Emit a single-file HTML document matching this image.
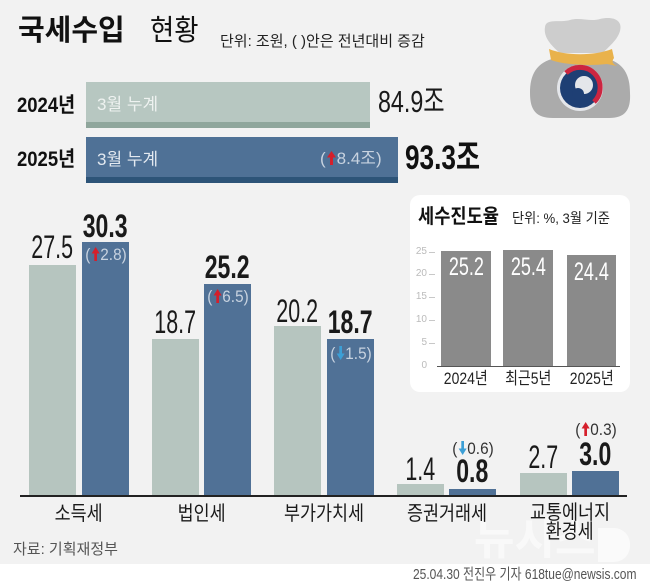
<!DOCTYPE html>
<html lang="ko">
<head>
<meta charset="utf-8">
<style>
  html,body{margin:0;padding:0;}
  body{width:650px;height:587px;position:relative;overflow:hidden;background:#f2f2f2;
       font-family:"Liberation Sans","Noto Sans CJK KR",sans-serif;color:#1a1a1a;}
  .a{position:absolute;}
  .t{position:absolute;white-space:nowrap;line-height:1;}
  .l{transform-origin:0 0;display:inline-block;}
  .c{position:absolute;white-space:nowrap;line-height:1;width:200px;text-align:center;}
  .c>span{display:inline-block;}
  .arr{display:inline-block;vertical-align:-1px;margin:0 1px;}
</style>
</head>
<body>

<!-- bottom white strip -->
<div class="a" style="left:0;top:564px;width:650px;height:23px;background:#ffffff;"></div>

<!-- Title -->
<div class="t" style="left:18px;top:16.5px;font-size:29px;font-weight:700;color:#111;">국세수입</div>
<div class="t" style="left:150px;top:16.5px;font-size:29px;font-weight:400;color:#111;"><span class="l" style="transform:scaleX(0.91)">현황</span></div>
<div class="t" style="left:220px;top:33.5px;font-size:15px;color:#222;">단위: 조원, ( )안은 전년대비 증감</div>

<!-- Bag icon -->
<svg class="a" style="left:520px;top:10px" width="130" height="130" viewBox="520 10 130 130">
  <path d="M545,27 C546,18 560,23 570,20 C580,17 590,22 600,19 C613,16 623,20 620,31 C617,41 608,47 603,53 L560,53 C553,47 543,38 545,27 Z" fill="#cdcdcd"/>
  <path d="M556,58 C536,62 530,75 530,93 C530,110 536,118 553,118 L609,118 C625,118 631,110 630,93 C630,75 624,62 604,58 Z" fill="#ababab"/>
  <path d="M549,49 C566,56 594,56 612,49 L614,58 C611,62 613,64 617,66 L607,64 C590,66 565,65 551,60 Z" fill="#e9b24b"/>
  <circle cx="580" cy="88" r="23" fill="#e4e6ea"/>
  <circle cx="580" cy="88" r="20" fill="#1e3f74"/>
  <path d="M566,73 A20,20 0 0 1 594,102" stroke="#cc2540" stroke-width="5" fill="none"/>
  <circle cx="584" cy="85" r="9" fill="#e4e6ea"/>
  <circle cx="578" cy="94" r="6" fill="#1e3f74"/>
</svg>

<!-- Top comparison bars -->
<div class="t" style="left:17px;top:95.3px;font-size:21px;font-weight:700;color:#111;"><span class="l" style="transform:scaleX(0.88)">2024년</span></div>
<div class="a" style="left:86px;top:82px;width:284px;height:40px;background:#b7c7c1;"></div>
<div class="a" style="left:86px;top:122px;width:284px;height:6px;background:#8fa69c;"></div>
<div class="t" style="left:97px;top:95.5px;font-size:17px;color:#eef2f0;">3월 누계</div>
<div class="t" style="left:378px;top:86px;font-size:31px;color:#1a1a1a;"><span class="l" style="transform:scaleX(0.75)">84.9조</span></div>

<div class="t" style="left:17px;top:148.5px;font-size:21px;font-weight:700;color:#111;"><span class="l" style="transform:scaleX(0.88)">2025년</span></div>
<div class="a" style="left:86px;top:137px;width:312px;height:40px;background:#4f7196;"></div>
<div class="a" style="left:86px;top:177px;width:312px;height:6px;background:#2d5478;"></div>
<div class="t" style="left:97px;top:150.5px;font-size:17px;color:#e3e9f0;">3월 누계</div>
<div class="t" style="left:320px;top:150px;font-size:17px;color:#c8d3e0;">(<svg class="arr" width="9" height="14" viewBox="0 0 9 14"><polygon points="0,6.5 4.5,0 9,6.5" fill="#d51f2b"/><rect x="3" y="5" width="3" height="9" fill="#d51f2b"/></svg>8.4조)</div>
<div class="t" style="left:405px;top:140.6px;font-size:34px;font-weight:700;color:#111;"><span class="l" style="transform:scaleX(0.77)">93.3조</span></div>

<!-- Main bar chart -->
<div class="a" style="left:29px;top:265px;width:47px;height:231px;background:#b6c5bf;"></div>
<div class="a" style="left:82px;top:241.5px;width:47px;height:254.5px;background:#507196;"></div>
<div class="a" style="left:152px;top:339px;width:47px;height:157px;background:#b6c5bf;"></div>
<div class="a" style="left:204px;top:284.3px;width:47px;height:211.7px;background:#507196;"></div>
<div class="a" style="left:274px;top:326.3px;width:47px;height:169.7px;background:#b6c5bf;"></div>
<div class="a" style="left:327px;top:339px;width:47px;height:157px;background:#507196;"></div>
<div class="a" style="left:397px;top:484.2px;width:47px;height:11.8px;background:#b6c5bf;"></div>
<div class="a" style="left:449px;top:489.3px;width:47px;height:6.7px;background:#507196;"></div>
<div class="a" style="left:520px;top:473.3px;width:47px;height:22.7px;background:#b6c5bf;"></div>
<div class="a" style="left:572px;top:470.8px;width:47px;height:25.2px;background:#507196;"></div>
<div class="a" style="left:20px;top:495px;width:607px;height:2px;background:#222;"></div>

<!-- value labels -->
<div class="c" style="left:-47.5px;top:231px;font-size:32px;"><span style="transform:scaleX(0.67)">27.5</span></div>
<div class="c" style="left:5.5px;top:210px;font-size:32px;font-weight:700;"><span style="transform:scaleX(0.72)">30.3</span></div>
<div class="c" style="left:75.5px;top:306px;font-size:32px;"><span style="transform:scaleX(0.67)">18.7</span></div>
<div class="c" style="left:127.5px;top:251px;font-size:32px;font-weight:700;"><span style="transform:scaleX(0.72)">25.2</span></div>
<div class="c" style="left:197.5px;top:295px;font-size:32px;"><span style="transform:scaleX(0.67)">20.2</span></div>
<div class="c" style="left:250.5px;top:306px;font-size:32px;font-weight:700;"><span style="transform:scaleX(0.72)">18.7</span></div>
<div class="c" style="left:320.5px;top:453px;font-size:32px;"><span style="transform:scaleX(0.67)">1.4</span></div>
<div class="c" style="left:372.5px;top:455px;font-size:32px;font-weight:700;"><span style="transform:scaleX(0.72)">0.8</span></div>
<div class="c" style="left:443.5px;top:441px;font-size:32px;"><span style="transform:scaleX(0.67)">2.7</span></div>
<div class="c" style="left:495.5px;top:438px;font-size:32px;font-weight:700;"><span style="transform:scaleX(0.72)">3.0</span></div>

<!-- change labels -->
<div class="c" style="left:5.5px;top:245.8px;font-size:17px;color:#c8d3e0;"><span style="transform:scaleX(0.9)">(<svg class="arr" width="9" height="14" viewBox="0 0 9 14"><polygon points="0,6.5 4.5,0 9,6.5" fill="#d51f2b"/><rect x="3" y="5" width="3" height="9" fill="#d51f2b"/></svg>2.8)</span></div>
<div class="c" style="left:127.5px;top:287.8px;font-size:17px;color:#c8d3e0;"><span style="transform:scaleX(0.9)">(<svg class="arr" width="9" height="14" viewBox="0 0 9 14"><polygon points="0,6.5 4.5,0 9,6.5" fill="#d51f2b"/><rect x="3" y="5" width="3" height="9" fill="#d51f2b"/></svg>6.5)</span></div>
<div class="c" style="left:250.5px;top:344.8px;font-size:17px;color:#c8d3e0;"><span style="transform:scaleX(0.9)">(<svg class="arr" width="9" height="14" viewBox="0 0 9 14"><polygon points="0,7.5 4.5,14 9,7.5" fill="#3c9fd6"/><rect x="3" y="0" width="3" height="9" fill="#3c9fd6"/></svg>1.5)</span></div>
<div class="c" style="left:372.5px;top:440px;font-size:17px;color:#333;"><span style="transform:scaleX(0.9)">(<svg class="arr" width="9" height="14" viewBox="0 0 9 14"><polygon points="0,7.5 4.5,14 9,7.5" fill="#3c9fd6"/><rect x="3" y="0" width="3" height="9" fill="#3c9fd6"/></svg>0.6)</span></div>
<div class="c" style="left:495.5px;top:421px;font-size:17px;color:#333;"><span style="transform:scaleX(0.9)">(<svg class="arr" width="9" height="14" viewBox="0 0 9 14"><polygon points="0,6.5 4.5,0 9,6.5" fill="#d51f2b"/><rect x="3" y="5" width="3" height="9" fill="#d51f2b"/></svg>0.3)</span></div>

<!-- watermark -->
<div class="t" style="left:474px;top:518px;font-size:44px;font-weight:700;color:#ffffff;opacity:0.6;">뉴시스</div>
<div class="a" style="left:598px;top:528px;width:32px;height:34px;background:#ffffff;opacity:0.6;border-radius:0 16px 16px 0;"></div>

<!-- category labels -->
<div class="c" style="left:-21.5px;top:504px;font-size:20px;color:#1a1a1a;"><span style="transform:scaleX(0.87)">소득세</span></div>
<div class="c" style="left:101.5px;top:504px;font-size:20px;color:#1a1a1a;"><span style="transform:scaleX(0.87)">법인세</span></div>
<div class="c" style="left:223.5px;top:504px;font-size:20px;color:#1a1a1a;"><span style="transform:scaleX(0.87)">부가가치세</span></div>
<div class="c" style="left:347px;top:504px;font-size:20px;color:#1a1a1a;"><span style="transform:scaleX(0.87)">증권거래세</span></div>
<div class="c" style="left:469.5px;top:503px;font-size:20px;color:#1a1a1a;"><span style="transform:scaleX(0.87)">교통에너지</span></div>
<div class="c" style="left:469.5px;top:522px;font-size:20px;color:#1a1a1a;"><span style="transform:scaleX(0.87)">환경세</span></div>

<!-- Inset panel -->
<div class="a" style="left:410px;top:195px;width:220px;height:197px;background:#ffffff;border-radius:10px;"></div>
<div class="t" style="left:418px;top:207px;font-size:20px;font-weight:700;color:#111;"><span class="l" style="transform:scaleX(0.88)">세수진도율</span></div>
<div class="t" style="left:512px;top:211px;font-size:14px;color:#222;"><span class="l" style="transform:scaleX(0.94)">단위: %, 3월 기준</span></div>

<div class="t" style="left:407px;width:20px;text-align:right;top:247px;font-size:10px;color:#bbb;">25</div>
<div class="t" style="left:407px;width:20px;text-align:right;top:269px;font-size:10px;color:#bbb;">20</div>
<div class="t" style="left:407px;width:20px;text-align:right;top:292px;font-size:10px;color:#bbb;">15</div>
<div class="t" style="left:407px;width:20px;text-align:right;top:315px;font-size:10px;color:#bbb;">10</div>
<div class="t" style="left:407px;width:20px;text-align:right;top:338px;font-size:10px;color:#bbb;">5</div>
<div class="t" style="left:407px;width:20px;text-align:right;top:361px;font-size:10px;color:#bbb;">0</div>
<div class="a" style="left:429px;top:252px;width:6px;height:1px;background:#c8c8c8;"></div>
<div class="a" style="left:429px;top:274px;width:6px;height:1px;background:#c8c8c8;"></div>
<div class="a" style="left:429px;top:297px;width:6px;height:1px;background:#c8c8c8;"></div>
<div class="a" style="left:429px;top:320px;width:6px;height:1px;background:#c8c8c8;"></div>
<div class="a" style="left:429px;top:343px;width:6px;height:1px;background:#c8c8c8;"></div>

<div class="a" style="left:441px;top:251px;width:50px;height:115px;background:#8a8a8a;"></div>
<div class="a" style="left:503px;top:250px;width:50px;height:116px;background:#8a8a8a;"></div>
<div class="a" style="left:567px;top:255px;width:49px;height:111px;background:#8a8a8a;"></div>
<div class="a" style="left:437px;top:366px;width:183px;height:1px;background:#555;"></div>

<div class="c" style="left:366px;top:254.7px;font-size:25px;color:#fff;"><span style="transform:scaleX(0.72)">25.2</span></div>
<div class="c" style="left:428px;top:254.5px;font-size:25px;color:#fff;"><span style="transform:scaleX(0.72)">25.4</span></div>
<div class="c" style="left:491.5px;top:259.7px;font-size:25px;color:#fff;"><span style="transform:scaleX(0.72)">24.4</span></div>

<div class="c" style="left:366px;top:370px;font-size:17px;color:#222;"><span style="transform:scaleX(0.82)">2024년</span></div>
<div class="c" style="left:428px;top:370px;font-size:17px;color:#222;"><span style="transform:scaleX(0.82)">최근5년</span></div>
<div class="c" style="left:491.5px;top:370px;font-size:17px;color:#222;"><span style="transform:scaleX(0.82)">2025년</span></div>

<!-- source & credit -->
<div class="t" style="left:13px;top:542px;font-size:15px;color:#555;">자료: 기획재정부</div>
<div class="t" style="left:413px;top:567px;font-size:15px;color:#555;"><span class="l" style="transform:scaleX(0.8)">25.04.30 전진우 기자 618tue@newsis.com</span></div>

</body>
</html>
